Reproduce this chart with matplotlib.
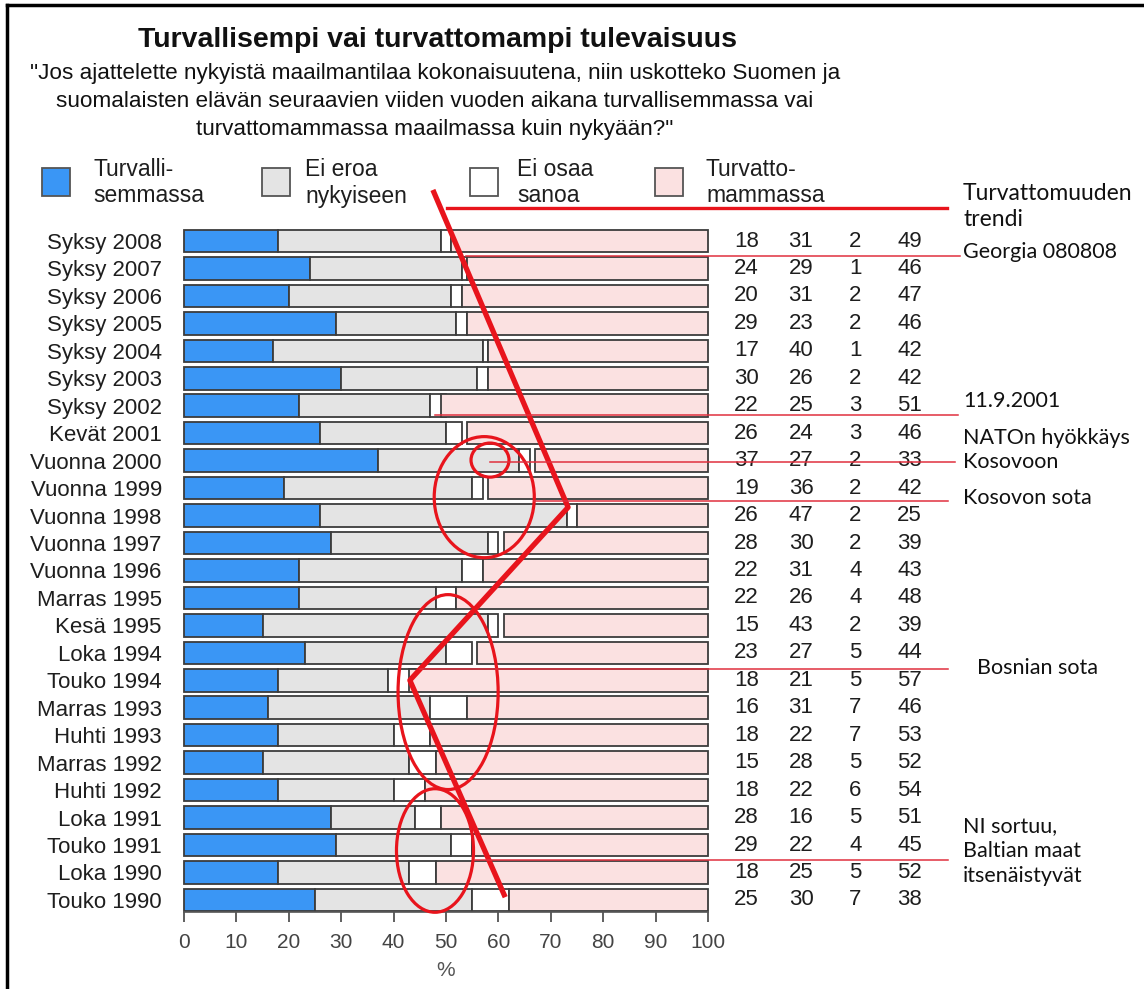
import matplotlib
matplotlib.use("Agg")
import matplotlib.pyplot as plt
from matplotlib.patches import Rectangle, Ellipse
from matplotlib.lines import Line2D

# ---------------- data ----------------
periods = ["Syksy 2008", "Syksy 2007", "Syksy 2006", "Syksy 2005", "Syksy 2004",
           "Syksy 2003", "Syksy 2002", "Kevät 2001", "Vuonna 2000", "Vuonna 1999",
           "Vuonna 1998", "Vuonna 1997", "Vuonna 1996", "Marras 1995", "Kesä 1995",
           "Loka 1994", "Touko 1994", "Marras 1993", "Huhti 1993", "Marras 1992",
           "Huhti 1992", "Loka 1991", "Touko 1991", "Loka 1990", "Touko 1990"]
turvallisemmassa = [18, 24, 20, 29, 17, 30, 22, 26, 37, 19, 26, 28, 22, 22, 15,
                    23, 18, 16, 18, 15, 18, 28, 29, 18, 25]
ei_eroa = [31, 29, 31, 23, 40, 26, 25, 24, 27, 36, 47, 30, 31, 26, 43,
           27, 21, 31, 22, 28, 22, 16, 22, 25, 30]
ei_osaa = [2, 1, 2, 2, 1, 2, 3, 3, 2, 2, 2, 2, 4, 4, 2,
           5, 5, 7, 7, 5, 6, 5, 4, 5, 7]
turvattomammassa = [49, 46, 47, 46, 42, 42, 51, 46, 33, 42, 25, 39, 43, 48, 39,
                    44, 57, 46, 53, 52, 54, 51, 45, 52, 38]
series_labels = ["Turvalli-\nsemmassa", "Ei eroa\nnykyiseen", "Ei osaa\nsanoa",
                 "Turvatto-\nmammassa"]
x_ticks = list(range(0, 101, 10))

# hand-drawn trend overlay (x in %, y in row index)
trend_x = [47.5, 73.3, 43.1, 61.3]
trend_row = [-1.86, 9.7, 16.0, 23.9]
# ellipses: (x centre %, row centre, width %, height rows)
ellipses = [(58.4, 7.98, 7.25, 1.24), (57.3, 9.33, 19.1, 4.41),
            (50.4, 16.43, 19.1, 7.1), (47.9, 22.2, 14.7, 4.5)]
events = ["Georgia 080808", "11.9.2001", "NATOn hyökkäys\nKosovoon", "Kosovon sota",
          "Bosnian sota", "NI sortuu,\nBaltian maat\nitsenäistyvät"]

# ---------------- style ----------------
plt.rcParams['font.family'] = ['Liberation Sans', 'DejaVu Sans']
BLUE = '#3a96f5'
GRAY = '#e4e4e4'
WHITE = '#ffffff'
PINK = '#fbe1e1'
EDGE = '#3c3c3c'
RED = '#e8141c'
THIN_RED = '#e0303e'

W, H = 1144, 989
fig = plt.figure(figsize=(W / 100, H / 100), dpi=100)


def fx(px):
    return px / W


def fy(py):
    return 1 - py / H


ax = fig.add_axes([fx(184), fy(912), (708 - 184) / W, (912 - 227) / H])
rows = list(range(len(periods)))
bh = 0.82
kw = dict(height=bh, edgecolor=EDGE, linewidth=1.3, clip_on=False)
ax.barh(rows, turvallisemmassa, color=BLUE, **kw)
ax.barh(rows, ei_eroa, left=turvallisemmassa, color=GRAY, **kw)
left3 = [a + b for a, b in zip(turvallisemmassa, ei_eroa)]
ax.barh(rows, ei_osaa, left=left3, color=WHITE, **kw)
ax.barh(rows, turvattomammassa, left=[100 - d for d in turvattomammassa], color=PINK, **kw)

ax.set_xlim(0, 100)
ax.set_ylim(24.44, -0.51)
ax.set_yticks(rows, periods)
ax.tick_params(axis='y', length=0, pad=16, labelsize=16, labelcolor='#1e1e1e')
ax.set_xticks(x_ticks)
ax.tick_params(axis='x', length=7, width=1.2, color='#444444', pad=8,
               labelsize=15, labelcolor='#444444')
for s in ['top', 'right', 'left']:
    ax.spines[s].set_visible(False)
ax.spines['bottom'].set_color('#555555')
ax.spines['bottom'].set_linewidth(1.2)
fig.text(fx(446), fy(970), '%', ha='center', va='center', fontsize=15, color='#555555')

# value table
col_x = [107.3, 117.75, 128.1, 138.5]
for r in rows:
    for cx, series in zip(col_x, [turvallisemmassa, ei_eroa, ei_osaa, turvattomammassa]):
        ax.text(cx, r, str(series[r]), ha='center', va='center', fontsize=16,
                color='#1e1e1e', clip_on=False)

# title
fig.text(fx(437), fy(40), "Turvallisempi vai turvattomampi tulevaisuus", ha='center',
         va='center', fontsize=20.5, fontweight='bold', color='#111111')
sub = ['"Jos ajattelette nykyistä maailmantilaa kokonaisuutena, niin uskotteko Suomen ja',
       'suomalaisten elävän seuraavien viiden vuoden aikana turvallisemmassa vai',
       'turvattomammassa maailmassa kuin nykyään?"']
for i, line in enumerate(sub):
    fig.text(fx(435), fy(73 + 28.5 * i), line, ha='center', va='center', fontsize=16.2,
             color='#111111')

# legend
leg_sq = [42, 262, 470, 655]
leg_tx = [93, 305, 517, 706]
for sx, tx, lab, col in zip(leg_sq, leg_tx, series_labels, [BLUE, GRAY, WHITE, PINK]):
    fig.add_artist(Rectangle((fx(sx), fy(196)), 28 / W, 28 / H, facecolor=col,
                             edgecolor='#555555', linewidth=1.3, transform=fig.transFigure))
    l1, l2 = lab.split('\n')
    fig.text(fx(tx), fy(170), l1, ha='left', va='center', fontsize=16.5, color='#1e1e1e')
    fig.text(fx(tx), fy(196), l2, ha='left', va='center', fontsize=16.5, color='#1e1e1e')

# trend overlay
fig.add_artist(Line2D([fx(447), fx(947)], [fy(208), fy(208)], color=RED, lw=2.4,
                      transform=fig.transFigure))
ax.plot(trend_x, trend_row, color=RED, lw=3.8, clip_on=False, solid_capstyle='butt',
        zorder=5)
for (ex, ey, ew, eh) in ellipses:
    ax.add_patch(Ellipse((ex, ey), ew, eh, fill=False, edgecolor=RED, lw=2.3,
                         clip_on=False, zorder=5))

# event lines (pixel y positions) and labels
ann_font = ['Lato', 'DejaVu Sans']
event_lines = [(466, 960, 256), (435, 958, 415), (490, 955, 462), (534, 948, 501),
               (420, 948, 669), (475, 948, 860)]
for (x0, x1, y) in event_lines:
    fig.add_artist(Line2D([fx(x0), fx(x1)], [fy(y), fy(y)], color=THIN_RED, lw=1.1,
                          transform=fig.transFigure, zorder=4))

fig.text(fx(963), fy(193), "Turvattomuuden", ha='left', va='center', fontsize=16.5,
         family=ann_font, color='#111111')
fig.text(fx(963), fy(220), "trendi", ha='left', va='center', fontsize=16.5,
         family=ann_font, color='#111111')
ev_pos = [(963, 252), (963, 401), (963, 450), (963, 498), (977, 668), (963, 851)]
for (px, py), txt in zip(ev_pos, events):
    fig.text(fx(px), fy(py), txt, ha='left', va='center', fontsize=15.5,
             family=ann_font, color='#111111', linespacing=1.3)

# page border (top and left)
fig.add_artist(Line2D([fx(7), 1], [fy(5), fy(5)], color='black', lw=2.5,
                      transform=fig.transFigure))
fig.add_artist(Line2D([fx(7), fx(7)], [0, fy(5)], color='black', lw=2.5,
                      transform=fig.transFigure))

fig.savefig("out.png", dpi=100)
